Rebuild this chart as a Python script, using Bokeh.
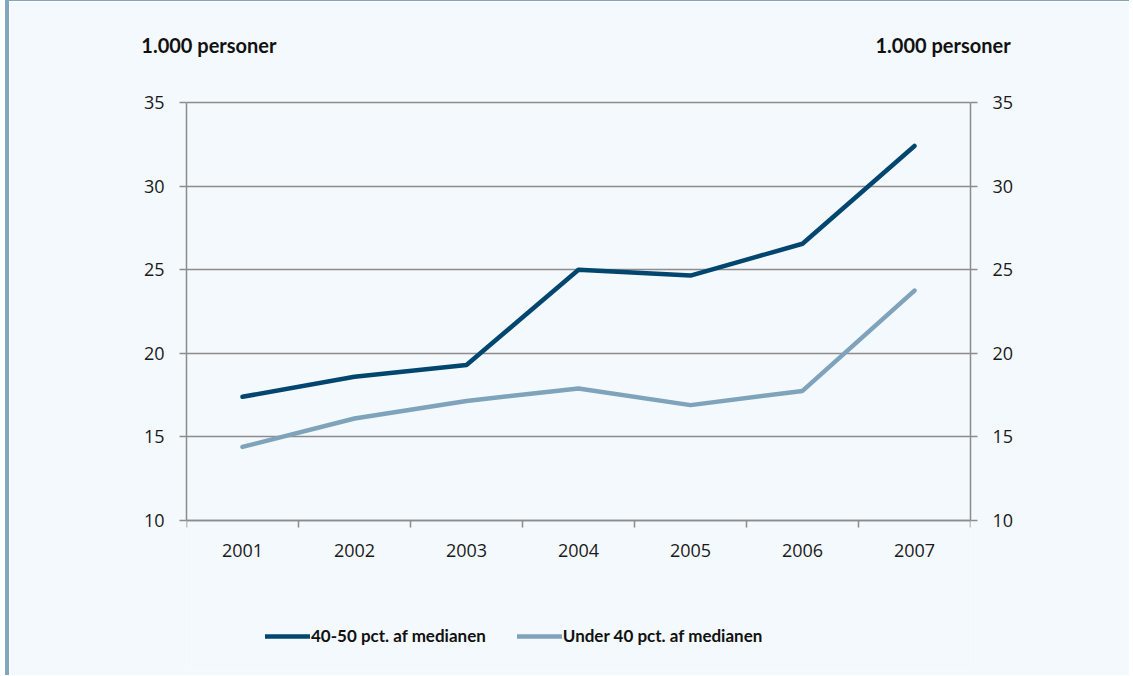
from bokeh.plotting import figure
from bokeh.models import (Range1d, LinearAxis, FixedTicker, Legend, LegendItem)
from bokeh.embed import file_html
from bokeh.resources import INLINE

years = ["2001", "2002", "2003", "2004", "2005", "2006", "2007"]
s1_name = "40-50 pct. af medianen"
s1 = [17.4, 18.6, 19.3, 25.0, 24.65, 26.55, 32.4]
s2_name = "Under 40 pct. af medianen"
s2 = [14.4, 16.1, 17.15, 17.9, 16.9, 17.75, 23.75]
y_ticks = [10, 15, 20, 25, 30, 35]
unit_label = "1.000 personer"

BG = "#f4f9fd"
DARK = "#00466e"
LIGHT = "#7ea3bb"
GRAY = "#8c8c8c"
EDGE = "#83a6be"
TICK_FONT = "Open Sans"
BOLD_FONT = "Lato"

# layout (pixels): value axis 10..35 spans 418 px; frame extends 2 px above
# and 150 px below it so the legend can sit inside the frame
PX = 418 / (y_ticks[-1] - y_ticks[0])
y_lo = y_ticks[0] - 150 / PX
y_hi = y_ticks[-1] + 2 / PX

xc = [i + 0.5 for i in range(len(years))]

p = figure(width=1124, height=675, output_backend="svg", toolbar_location=None,
           x_range=Range1d(0, len(years)), y_range=Range1d(y_lo, y_hi),
           min_border_left=177, min_border_right=163, min_border_top=99, min_border_bottom=6,
           background_fill_color=BG, border_fill_color=BG,
           styles={"margin-left": "5px", "border-left": f"4px solid {EDGE}",
                   "border-top": f"1px solid {EDGE}"})
p.outline_line_color = None
p.xgrid.visible = False
p.ygrid.grid_line_color = GRAY
p.ygrid.grid_line_width = 1.5
p.ygrid.ticker = FixedTicker(ticks=y_ticks)

# x axis, pinned at the bottom of the value range
xa = p.xaxis[0]
xa.fixed_location = y_ticks[0]
xa.ticker = FixedTicker(ticks=xc, minor_ticks=list(range(len(years) + 1)))
xa.major_label_overrides = {x: y for x, y in zip(xc, years)}
xa.major_tick_line_color = None
xa.minor_tick_out = 7
xa.minor_tick_in = 0
xa.minor_tick_line_color = GRAY
xa.minor_tick_line_width = 1.5
xa.axis_line_color = GRAY
xa.axis_line_width = 1.5
xa.major_label_text_font = TICK_FONT
xa.major_label_text_font_size = "18px"
xa.major_label_text_color = "#1a1a1a"
xa.major_label_standoff = 16

# unit labels above the two value axes (as tick labels of a bare top axis)
unit_pos = [0.2, 6.755]
ta = LinearAxis(ticker=FixedTicker(ticks=unit_pos, minor_ticks=[]),
                major_label_overrides={v: unit_label for v in unit_pos},
                axis_line_color=None, major_tick_line_color=None, minor_tick_line_color=None,
                major_label_standoff=38, major_label_text_font=BOLD_FONT,
                major_label_text_font_style="bold", major_label_text_font_size="20px",
                major_label_text_color="#111111")
p.add_layout(ta, "above")

# y axes
p.extra_y_ranges = {"right": Range1d(y_lo, y_hi)}
ra = LinearAxis(y_range_name="right")
p.add_layout(ra, "right")
for ax in (p.yaxis[0], ra):
    ax.bounds = (y_ticks[0], y_ticks[-1])
    ax.ticker = FixedTicker(ticks=y_ticks)
    ax.minor_tick_line_color = None
    ax.major_tick_out = 7
    ax.major_tick_in = 0
    ax.major_tick_line_color = GRAY
    ax.major_tick_line_width = 1.5
    ax.axis_line_color = GRAY
    ax.axis_line_width = 1.5
    ax.major_label_text_font = TICK_FONT
    ax.major_label_text_font_size = "18px"
    ax.major_label_text_color = "#1a1a1a"
    ax.major_label_standoff = 15

r1 = p.line(xc, s1, line_color=DARK, line_width=4.5, line_cap="round", line_join="round")
r2 = p.line(xc, s2, line_color=LIGHT, line_width=4.5, line_cap="round", line_join="round")

legend = Legend(items=[LegendItem(label=s1_name, renderers=[r1]),
                       LegendItem(label=s2_name, renderers=[r2])],
                orientation="horizontal", location=(79, 24),
                background_fill_alpha=0, border_line_color=None,
                padding=0, margin=0, spacing=31, label_standoff=1,
                glyph_width=45, glyph_height=20, label_height=20,
                label_text_font=BOLD_FONT, label_text_font_style="bold",
                label_text_font_size="17px", label_text_color="#111111")
p.add_layout(legend, "center")

open("out.html", "w").write(file_html(p, INLINE))
